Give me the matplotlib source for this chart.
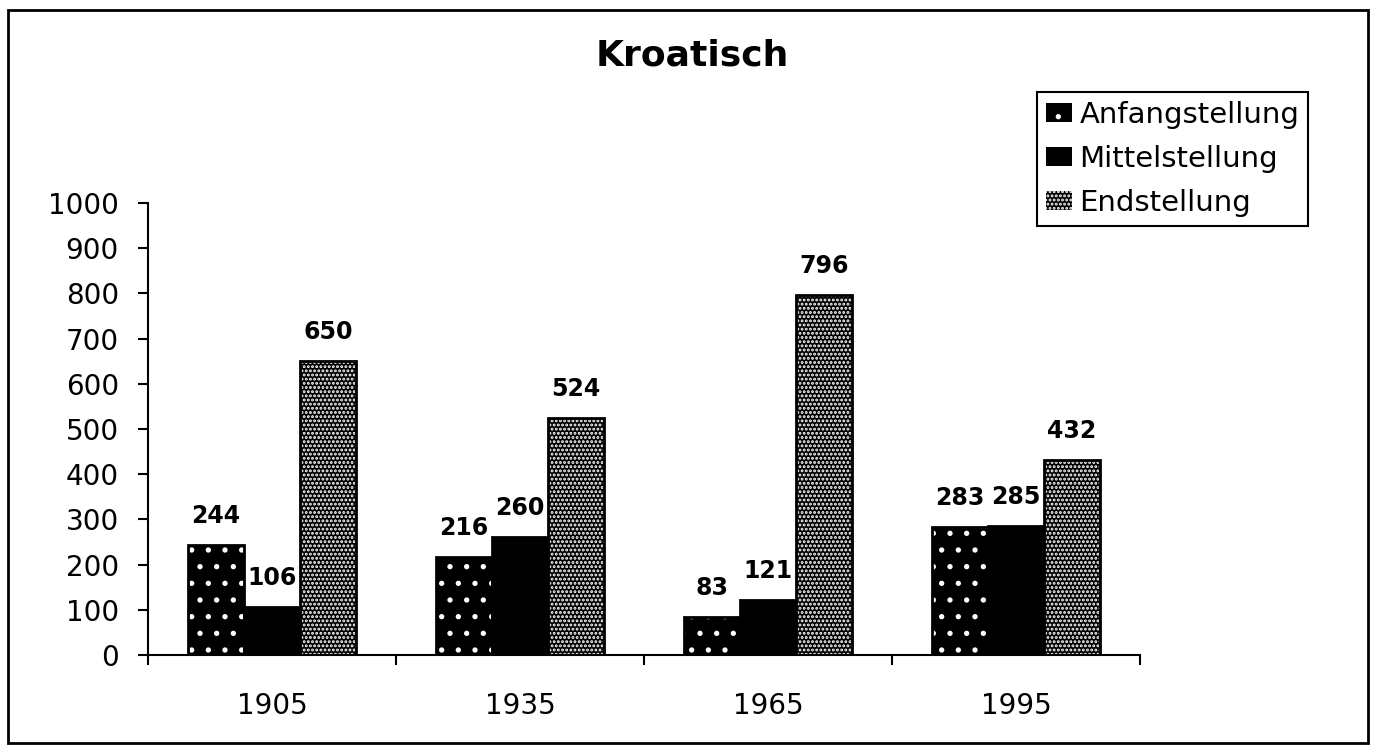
import matplotlib
matplotlib.use('Agg')
import matplotlib.pyplot as plt
from matplotlib.patches import Patch, Rectangle
import numpy as np

years = ['1905', '1935', '1965', '1995']
anfang = [244, 216, 83, 283]
mittel = [106, 260, 121, 285]
end = [650, 524, 796, 432]
series_names = ['Anfangstellung', 'Mittelstellung', 'Endstellung']

plt.rcParams['font.family'] = ['DejaVu Sans']
plt.rcParams['hatch.linewidth'] = 1.4

fig = plt.figure(figsize=(13.75, 7.53), dpi=100)
ax = fig.add_axes([148 / 1375, 1 - 655 / 753, (1140 - 148) / 1375, (655 - 203) / 753])

# bar styles: black fill with white speckle patterns
styles = [
    dict(facecolor='black', edgecolor='white', hatch='.', linewidth=0),
    dict(facecolor='black', edgecolor='black', linewidth=0),
    dict(facecolor='black', edgecolor='white', hatch='....', linewidth=0),
]

x = np.arange(len(years))
w = 0.226
for i, vals in enumerate([anfang, mittel, end]):
    pos = x + (i - 1) * w
    ax.bar(pos, vals, w, **styles[i])
    ax.bar(pos, vals, w, fill=False, edgecolor='black', linewidth=2)
    for px, v in zip(pos, vals):
        ax.annotate(str(v), (px, v), xytext=(0, 21), textcoords='offset points',
                    ha='center', va='center', fontsize=17, fontweight='bold')

ax.set_xlim(-0.5, len(years) - 0.5)
ax.set_ylim(0, 1000)
ax.set_yticks(range(0, 1001, 100))
ax.set_xticks(x)
ax.set_xticklabels(years)
ax.set_xticks(np.arange(-0.5, len(years), 1), minor=True)
ax.tick_params(axis='x', which='major', length=0, pad=27, labelsize=20)
ax.tick_params(axis='x', which='minor', length=7, width=1.5, direction='out')
ax.tick_params(axis='y', length=7, width=1.5, direction='out', pad=14, labelsize=20)
for s in ['top', 'right']:
    ax.spines[s].set_visible(False)
for s in ['left', 'bottom']:
    ax.spines[s].set_linewidth(1.5)

fig.text(692 / 1375, 1 - 56 / 753, 'Kroatisch', ha='center', va='center',
         fontsize=26, fontweight='bold')

handles = [Patch(**styles[i]) for i in range(3)]
leg = fig.legend(handles, series_names, loc='upper left',
                 bbox_to_anchor=(1037 / 1375, 1 - 92 / 753), fontsize=21,
                 frameon=True, fancybox=False, edgecolor='black', framealpha=1,
                 handlelength=0.9, handleheight=0.6, handletextpad=0.25,
                 labelspacing=0.55, borderpad=0.3, borderaxespad=0)
leg.get_frame().set_linewidth(1.5)

# outer border of the chart
fig.patches.append(Rectangle((8 / 1375, 10 / 753), 1360 / 1375, 733 / 753,
                             transform=fig.transFigure, fill=False,
                             edgecolor='black', linewidth=2))

fig.savefig('out.png', dpi=100)
